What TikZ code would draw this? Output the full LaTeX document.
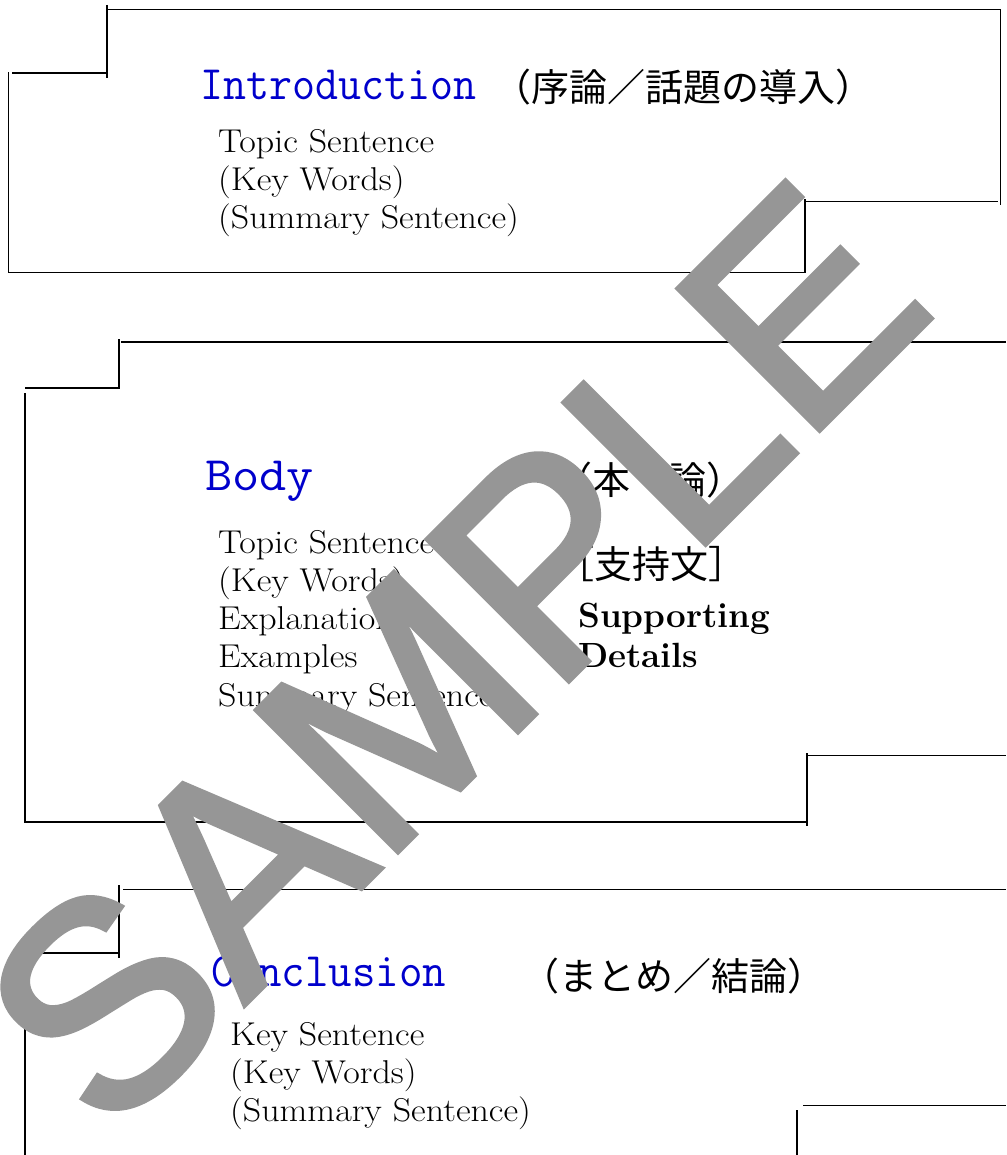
\documentclass[tikz,border=0pt]{standalone}
\usepackage{fontspec}
\newfontfamily\jpfont{Noto Sans CJK JP}
\newfontfamily\markfont[FakeBold=2]{Liberation Sans}
\definecolor{headblue}{RGB}{0,0,204}
\definecolor{markgray}{RGB}{150,150,150}

\begin{document}
\begin{tikzpicture}[x=1pt, y=-1pt,
    frame/.style={line width=1.6pt},
    heading/.style={font=\ttfamily\fontsize{48}{48}\selectfont, text=headblue, anchor=base west, inner sep=0pt},
    jptext/.style={font=\jpfont\fontsize{38}{38}\selectfont, anchor=base west, inner sep=0pt},
    item/.style={font=\fontsize{33}{38}\selectfont, xscale=1.09, anchor=base west, inner sep=0pt},
    detail/.style={font=\bfseries\fontsize{35}{40}\selectfont, anchor=base west, inner sep=0pt}
  ]
  \useasboundingbox[fill=white] (0,0) rectangle (1006,1155);

  % Introduction frame
  \draw[frame] (106,9.5) -- (1000.5,9.5) -- (1000.5,205);
  \draw[frame] (805,201.5) -- (998,201.5);
  \draw[frame] (805,199) -- (805,272.5) -- (8.5,272.5) -- (8.5,72);
  \draw[frame] (12,73) -- (108,73);
  \draw[frame] (107,5) -- (107,78);

  % Body frame
  \draw[frame] (121,342) -- (1006,342);
  \draw[frame] (119,339) -- (119,388) -- (25,388);
  \draw[frame] (25,393) -- (25,822) -- (808,822);
  \draw[frame] (807,753) -- (807,826);
  \draw[frame] (807,755.5) -- (1006,755.5);

  % Conclusion frame
  \draw[frame] (123,889.5) -- (1006,889.5);
  \draw[frame] (119,885) -- (119,958);
  \draw[frame] (25,953) -- (119,953);
  \draw[frame] (25,958) -- (25,1155);
  \draw[frame] (803,1105.5) -- (1006,1105.5);
  \draw[frame] (797,1110) -- (797,1155);

  % Introduction
  \node[heading, xscale=0.93] (intro) at (200,100) {Introduction};
  \node[jptext] (introjp) at (493,102) {（序論／話題の導入）};
  \foreach \t [count=\i from 0] in {Topic Sentence, (Key Words), (Summary Sentence)}
    \node[item] (intro\i) at (218,{153+38*\i}) {\t};

  % Body
  \node[heading, xscale=1.1] (body) at (205,490) {Body};
  \node[jptext] (bodyjp) at (554,494) {（本　論）};
  \foreach \t [count=\i from 0] in {Topic Sentence, (Key Words), Explanations, Examples, Summary Sentence}
    \node[item] (body\i) at (218,{553+38.3*\i}) {\t};
  \node[jptext] (support) at (556,578) {［支持文］};
  \node[detail] (detail0) at (578,627) {Supporting};
  \node[detail] (detail1) at (578,667) {Details};

  % Conclusion
  \node[heading, xscale=0.95] (concl) at (211,986) {Conclusion};
  \node[jptext] (concljp) at (521,990) {（まとめ／結論）};
  \foreach \t [count=\i from 0] in {Key Sentence, (Key Words), (Summary Sentence)}
    \node[item] (concl\i) at (230,{1045+38*\i}) {\t};

  % watermark
  \node[rotate=45, text=markgray, font=\markfont\fontsize{290}{290}\selectfont, inner sep=0pt] (mark) at (453,655) {SAMPLE};
\end{tikzpicture}
\end{document}
